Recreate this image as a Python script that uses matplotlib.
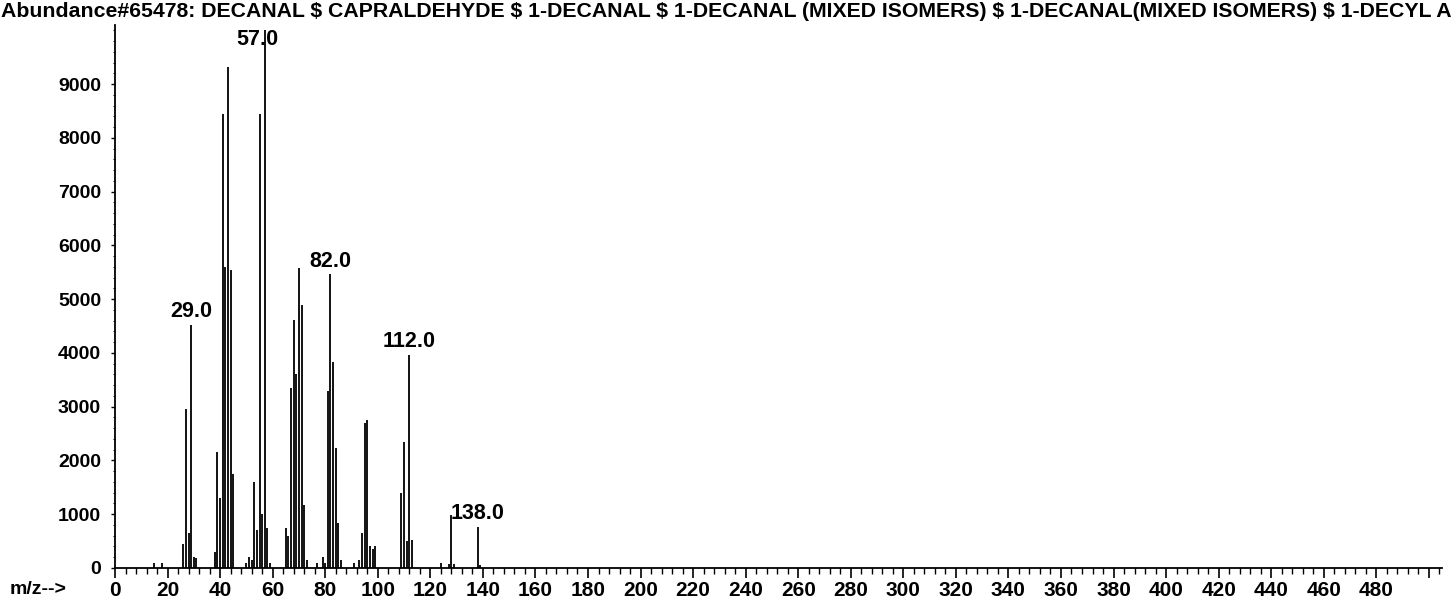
import matplotlib

matplotlib.use("Agg")
import matplotlib.pyplot as plt
from matplotlib.ticker import MultipleLocator, FixedLocator

plt.rcParams["font.family"] = ["Liberation Sans", "DejaVu Sans"]
plt.rcParams["font.weight"] = "bold"

# the library header is truncated at the page edge in the original printout
TITLE = ("Abundance#65478: DECANAL $ CAPRALDEHYDE $ 1-DECANAL $ 1-DECANAL "
         "(MIXED ISOMERS) $ 1-DECANAL(MIXED ISOMERS) $ 1-DECYL A")

# m/z and abundance
mz = [15, 18, 26, 27, 28, 29, 30, 31, 38, 39, 40, 41, 42, 43, 44, 45,
      50, 51, 52, 53, 54, 55, 56, 57, 58, 59, 65, 66, 67, 68, 69, 70,
      71, 72, 73, 77, 79, 80, 81, 82, 83, 84, 85, 86, 91, 93, 94, 95,
      96, 97, 98, 99, 109, 110, 111, 112, 113, 124, 127, 128, 129, 138, 139]
abundance = [100, 100, 450, 2950, 650, 4520, 200, 180, 300, 2150, 1300, 8440,
             5600, 9320, 5550, 1750, 100, 200, 150, 1600, 700, 8440, 1000,
             10000, 750, 100, 750, 600, 3350, 4620, 3600, 5580, 4900, 1170,
             150, 100, 200, 100, 3300, 5460, 3830, 2230, 830, 150, 100, 150,
             650, 2700, 2750, 400, 350, 400, 1390, 2340, 500, 3960, 520, 100,
             80, 980, 80, 770, 60]

labelled = [29, 57, 82, 112, 138]

y_ticks = list(range(0, 10000, 1000))
x_major = list(range(0, 501, 20))
x_labels = [str(v) if v <= 480 else "" for v in x_major]

fig = plt.figure(figsize=(14.53, 6.04), dpi=100)
ax = fig.add_axes([115 / 1453, 36 / 604, 1327 / 1453, 543 / 604])

ax.vlines(mz, 0, abundance, colors="black", linewidth=1.3)

ymax = 10100
for m in labelled:
    v = abundance[mz.index(m)]
    if v + 500 < ymax:
        ax.annotate(f"{m:.1f}", xy=(m, v), xytext=(0, 2),
                    textcoords="offset points", ha="center", va="bottom",
                    fontsize=15.5)
    else:
        # base peak: label tucked under the top of the frame
        ax.annotate(f"{m:.1f}", xy=(m, ymax), xytext=(-5, -3),
                    textcoords="offset points", ha="center", va="top",
                    fontsize=15.5)

ax.set_xlim(0, 505)
ax.set_ylim(0, ymax)

ax.xaxis.set_major_locator(FixedLocator(x_major))
ax.set_xticklabels(x_labels)
ax.xaxis.set_minor_locator(MultipleLocator(4))
ax.set_yticks(y_ticks)
ax.yaxis.set_minor_locator(MultipleLocator(200))

ax.tick_params(axis="x", which="major", length=7, width=1.2, labelsize=15, pad=2)
ax.tick_params(axis="x", which="minor", length=4, width=1.0)
ax.tick_params(axis="y", which="major", length=3, width=1.0, labelsize=14, pad=7)
ax.tick_params(axis="y", which="minor", length=1.2, width=0.7)

for side in ("top", "right"):
    ax.spines[side].set_visible(False)
for side in ("left", "bottom"):
    ax.spines[side].set_linewidth(1.3)

fig.text(1 / 1453, 1 - 17 / 604, TITLE, fontsize=15.3, ha="left", va="baseline")
fig.text(10 / 1453, 1 - 589 / 604, "m/z-->", fontsize=14, ha="left", va="center")

fig.savefig("out.png", dpi=100)
